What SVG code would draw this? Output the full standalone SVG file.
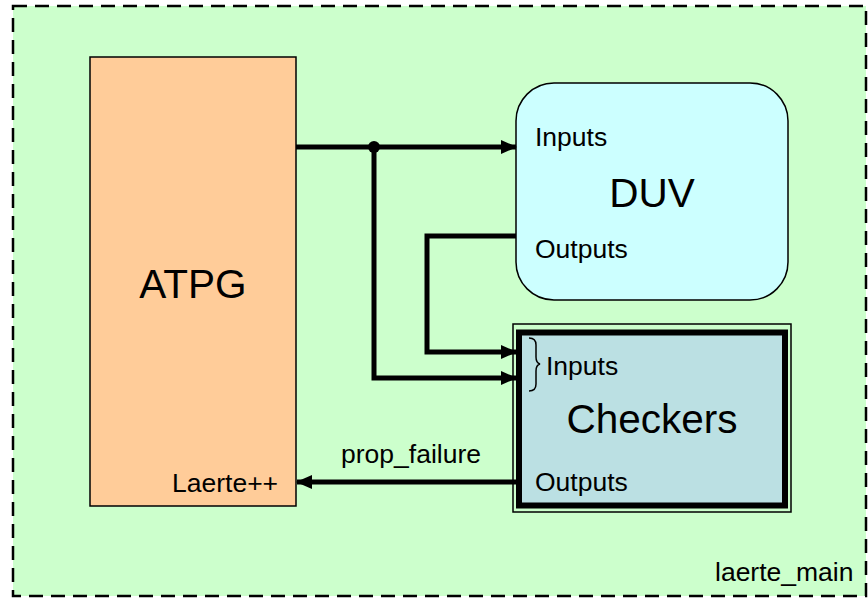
<svg xmlns="http://www.w3.org/2000/svg" width="868" height="598" viewBox="0 0 868 598">
<style>
text{font-family:"Liberation Sans",Arial,sans-serif;fill:#000}
.s{font-size:26.5px}
.b{font-size:40.5px}
.c{fill:none;stroke:#000;stroke-width:5}
</style>
<defs>
<marker id="ah" markerUnits="userSpaceOnUse" markerWidth="16" markerHeight="14" refX="15" refY="7" orient="auto">
<path d="M0,0 L16,7 L0,14 Z" fill="#000"/>
</marker>
</defs>
<g id="laerte_main">
<rect x="13" y="6" width="853" height="590" fill="#CCFFCC" stroke="#000" stroke-width="2.5" stroke-dasharray="14 8"/>
<text class="s" x="715" y="581">laerte_main</text>
</g>
<g id="atpg">
<rect x="90" y="57" width="206" height="449" fill="#FFCC99" stroke="#000" stroke-width="1.5"/>
<text class="b" x="193" y="298" text-anchor="middle">ATPG</text>
<text class="s" x="172" y="492">Laerte++</text>
</g>
<g id="duv">
<rect x="516" y="83" width="272" height="217" rx="38" ry="38" fill="#CCFFFF" stroke="#000" stroke-width="1.5"/>
<text class="s" x="535" y="146">Inputs</text>
<text class="b" x="652" y="207" text-anchor="middle">DUV</text>
<text class="s" x="535" y="258">Outputs</text>
</g>
<g id="checkers">
<rect x="513" y="324" width="278" height="188" fill="none" stroke="#000" stroke-width="1.5"/>
<rect x="519" y="332.5" width="266" height="173" fill="#BBE0E3" stroke="#000" stroke-width="6"/>
<path d="M529,338 Q536,338 536,345 L536,357 Q536,363 540,364 Q536,365 536,371 L536,384 Q536,391 529,391" fill="none" stroke="#000" stroke-width="1.5"/>
<text class="s" x="546" y="375">Inputs</text>
<text class="b" x="652" y="433" text-anchor="middle">Checkers</text>
<text class="s" x="535" y="491">Outputs</text>
</g>
<g id="connectors">
<line class="c" x1="296" y1="147" x2="516" y2="147" stroke-width="4" marker-end="url(#ah)"/>
<circle cx="374" cy="147" r="6" fill="#000"/>
<polyline class="c" points="374,147 374,378 516,378" marker-end="url(#ah)"/>
<polyline class="c" points="516,236 427,236 427,352 516,352" marker-end="url(#ah)"/>
<line class="c" x1="516" y1="482" x2="297" y2="482" marker-end="url(#ah)"/>
<text class="s" x="411" y="463" text-anchor="middle">prop_failure</text>
</g>
</svg>
